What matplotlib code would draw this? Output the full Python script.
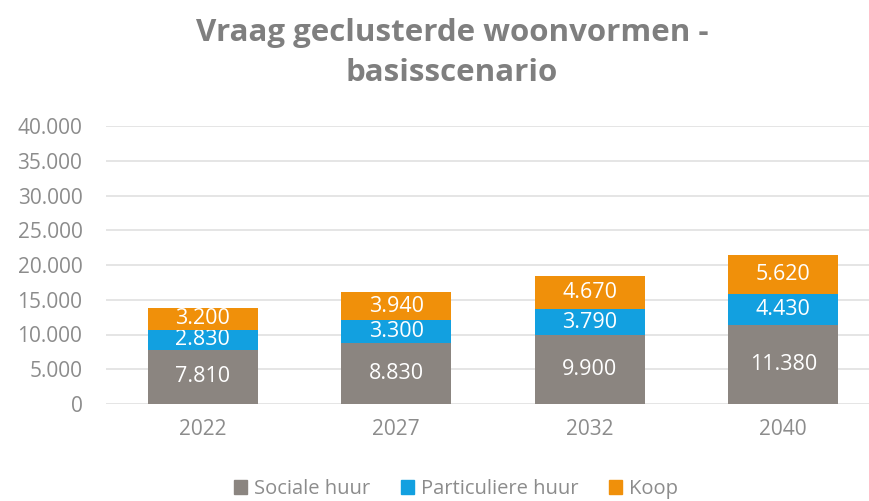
import numpy as np
import matplotlib.pyplot as plt
from matplotlib.patches import Patch

jaren = ['2022', '2027', '2032', '2040']
sociale_huur = [7810, 8830, 9900, 11380]
particuliere_huur = [2830, 3300, 3790, 4430]
koop = [3200, 3940, 4670, 5620]
reeksen = ['Sociale huur', 'Particuliere huur', 'Koop']
yticks = [0, 5000, 10000, 15000, 20000, 25000, 30000, 35000, 40000]

kleuren = ['#8b8580', '#12a0e0', '#f0900a']
grijs = '#8c8c8c'

plt.rcParams['font.family'] = ['Open Sans', 'DejaVu Sans']

fig = plt.figure(figsize=(8.69, 5.01), dpi=100)
ax = fig.add_axes([106 / 869, 97 / 501, 774 / 869, 278 / 501])

x = np.arange(len(jaren))
bottom = np.zeros(len(jaren))
for naam, waarden, kleur in zip(reeksen, [sociale_huur, particuliere_huur, koop], kleuren):
    bars = ax.bar(x, waarden, 0.57, bottom=bottom, color=kleur, label=naam, zorder=3)
    labels = [f'{v:,}'.replace(',', '.') for v in waarden]
    ax.bar_label(bars, labels=labels, label_type='center', color='white',
                 fontsize=15.5)
    bottom += np.array(waarden)

ax.set_xlim(-0.5, 3.5)
ax.set_ylim(0, 40000)
ax.set_yticks(yticks)
ax.set_yticklabels([f'{v:,}'.replace(',', '.') for v in yticks])
ax.set_xticks(x)
ax.set_xticklabels(jaren)
ax.tick_params(axis='both', length=0, colors=grijs, labelsize=15)
ax.tick_params(axis='y', pad=17)
ax.tick_params(axis='x', pad=11)
ax.grid(axis='y', color='#e0e0e0', linewidth=1.2, zorder=0)
for s in ax.spines.values():
    s.set_visible(False)

fig.text(452 / 869, 1 - 53 / 501, 'Vraag geclusterde woonvormen -\nbasisscenario',
         ha='center', va='center', fontsize=22.5, fontweight='bold',
         color='#7f7f7f', linespacing=1.45)

handles = [Patch(color=k, label=n) for n, k in zip(reeksen, kleuren)]
fig.legend(handles=handles, loc='center', bbox_to_anchor=(456 / 869, 1 - 489 / 501),
           ncol=3, frameon=False, fontsize=14.5, handlelength=0.65, handleheight=0.65,
           handletextpad=0.35, columnspacing=1.5, labelcolor=grijs)

fig.savefig('out.png', dpi=100)
